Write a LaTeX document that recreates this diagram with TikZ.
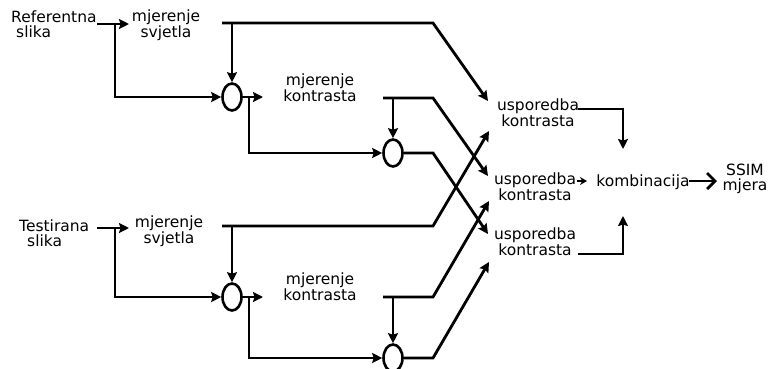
\documentclass[tikz,border=0pt]{standalone}
\usepackage{fontspec}
\setmainfont{DejaVu Sans}
\usetikzlibrary{arrows.meta,shapes.geometric}
\begin{document}
\begin{tikzpicture}[x=1pt,y=-1pt,
  wire/.style={line width=2.8pt},
  arr/.style={wire,-{Stealth[length=10pt,width=10pt,inset=1.5pt]}},
  lbl/.style={font=\fontsize{15.5}{14.5}\selectfont,inner sep=0pt,align=center},
  junc/.style={ellipse,draw,line width=2.6pt,minimum width=19pt,minimum height=27pt,inner sep=0pt}]
\useasboundingbox (0,0) rectangle (769,368);
% ---------- reference image branch ----------
\node[lbl,anchor=west,align=left] (ref) at (11,24) {Referentna\\\hspace{5pt}slika};
\node[lbl] (sv1) at (166,25) {mjerenje\\svjetla};
\node[lbl] (kt1) at (320,88) {mjerenje\\kontrasta};
\node[junc] (e1) at (232,97) {};
\node[junc] (e2) at (393,153) {};
\coordinate (ra) at (97,24); \coordinate (rb) at (129,24);
\coordinate (rj) at (115,24); \coordinate (rk) at (115,97);
\draw[arr] (ra) -- (rb);
\draw[arr] (rj) -- (rk) -- (e1);
\coordinate (l1s) at (222,23); \coordinate (l1b) at (433,23); \coordinate (l1e) at (488,101);
\draw[arr] (l1s) -- (l1b) -- (l1e);
\coordinate (l1d) at (232,23);
\draw[arr] (l1d) -- (e1);
\coordinate (s1) at (263,97);
\draw[arr] (e1.east) -- (s1);
\coordinate (m1a) at (249,97); \coordinate (m1b) at (249,153);
\draw[arr] (m1a) -- (m1b) -- (e2);
\coordinate (k1s) at (383,98); \coordinate (k1b) at (433,98); \coordinate (k1e) at (488,176);
\draw[arr] (k1s) -- (k1b) -- (k1e);
\coordinate (k1d) at (393,98);
\draw[arr] (k1d) -- (e2);
\coordinate (o1b) at (433,153); \coordinate (o1e) at (488,234);
\draw[arr] (e2.east) -- (o1b) -- (o1e);
% ---------- test image branch ----------
\node[lbl,anchor=west,align=left] (tst) at (19,233) {Testirana\\\hspace{8pt}slika};
\node[lbl] (sv2) at (169,231) {mjerenje\\svjetla};
\node[lbl] (kt2) at (320,287) {mjerenje\\kontrasta};
\node[junc] (e3) at (232,297) {};
\node[junc] (e4) at (393,358) {};
\coordinate (ta) at (97,228); \coordinate (tb) at (129,228);
\coordinate (tj) at (115,228); \coordinate (tk) at (115,297);
\draw[arr] (ta) -- (tb);
\draw[arr] (tj) -- (tk) -- (e3);
\coordinate (l2s) at (222,226); \coordinate (l2b) at (433,226); \coordinate (l2e) at (489,131);
\draw[arr] (l2s) -- (l2b) -- (l2e);
\coordinate (l2d) at (232,226);
\draw[arr] (l2d) -- (e3);
\coordinate (s2) at (263,297);
\draw[arr] (e3.east) -- (s2);
\coordinate (m2a) at (249,297); \coordinate (m2b) at (249,358);
\draw[arr] (m2a) -- (m2b) -- (e4);
\coordinate (k2s) at (383,297); \coordinate (k2b) at (433,297); \coordinate (k2e) at (489,201);
\draw[arr] (k2s) -- (k2b) -- (k2e);
\coordinate (k2d) at (393,297);
\draw[arr] (k2d) -- (e4);
\coordinate (o2b) at (433,358); \coordinate (o2e) at (489,262);
\draw[arr] (e4.east) -- (o2b) -- (o2e);
% ---------- comparison and combination ----------
\node[lbl] (u1) at (538,113) {usporedba\\kontrasta};
\node[lbl] (u2) at (535,187) {usporedba\\kontrasta};
\node[lbl] (u3) at (535,242) {usporedba\\kontrasta};
\node[lbl] (komb) at (643,182) {kombinacija};
\node[lbl] (ssim) at (745,179) {SSIM\\mjera};
\coordinate (c1a) at (578,109); \coordinate (c1b) at (623,109); \coordinate (c1e) at (623,149);
\draw[arr] (c1a) -- (c1b) -- (c1e);
\coordinate (c3a) at (578,254); \coordinate (c3b) at (623,254); \coordinate (c3e) at (623,216);
\draw[arr] (c3a) -- (c3b) -- (c3e);
\coordinate (sa) at (577,181); \coordinate (sb) at (587,181);
\draw[line width=1.8pt,-{Stealth[length=7pt,width=8pt]}] (sa) -- (sb);
\coordinate (fa) at (689,181); \coordinate (fb) at (717,181);
\draw[line width=2.2pt,-{Straight Barb[length=8pt,width=16pt,line width=2.8pt]}] (fa) -- (fb);
\end{tikzpicture}
\end{document}
